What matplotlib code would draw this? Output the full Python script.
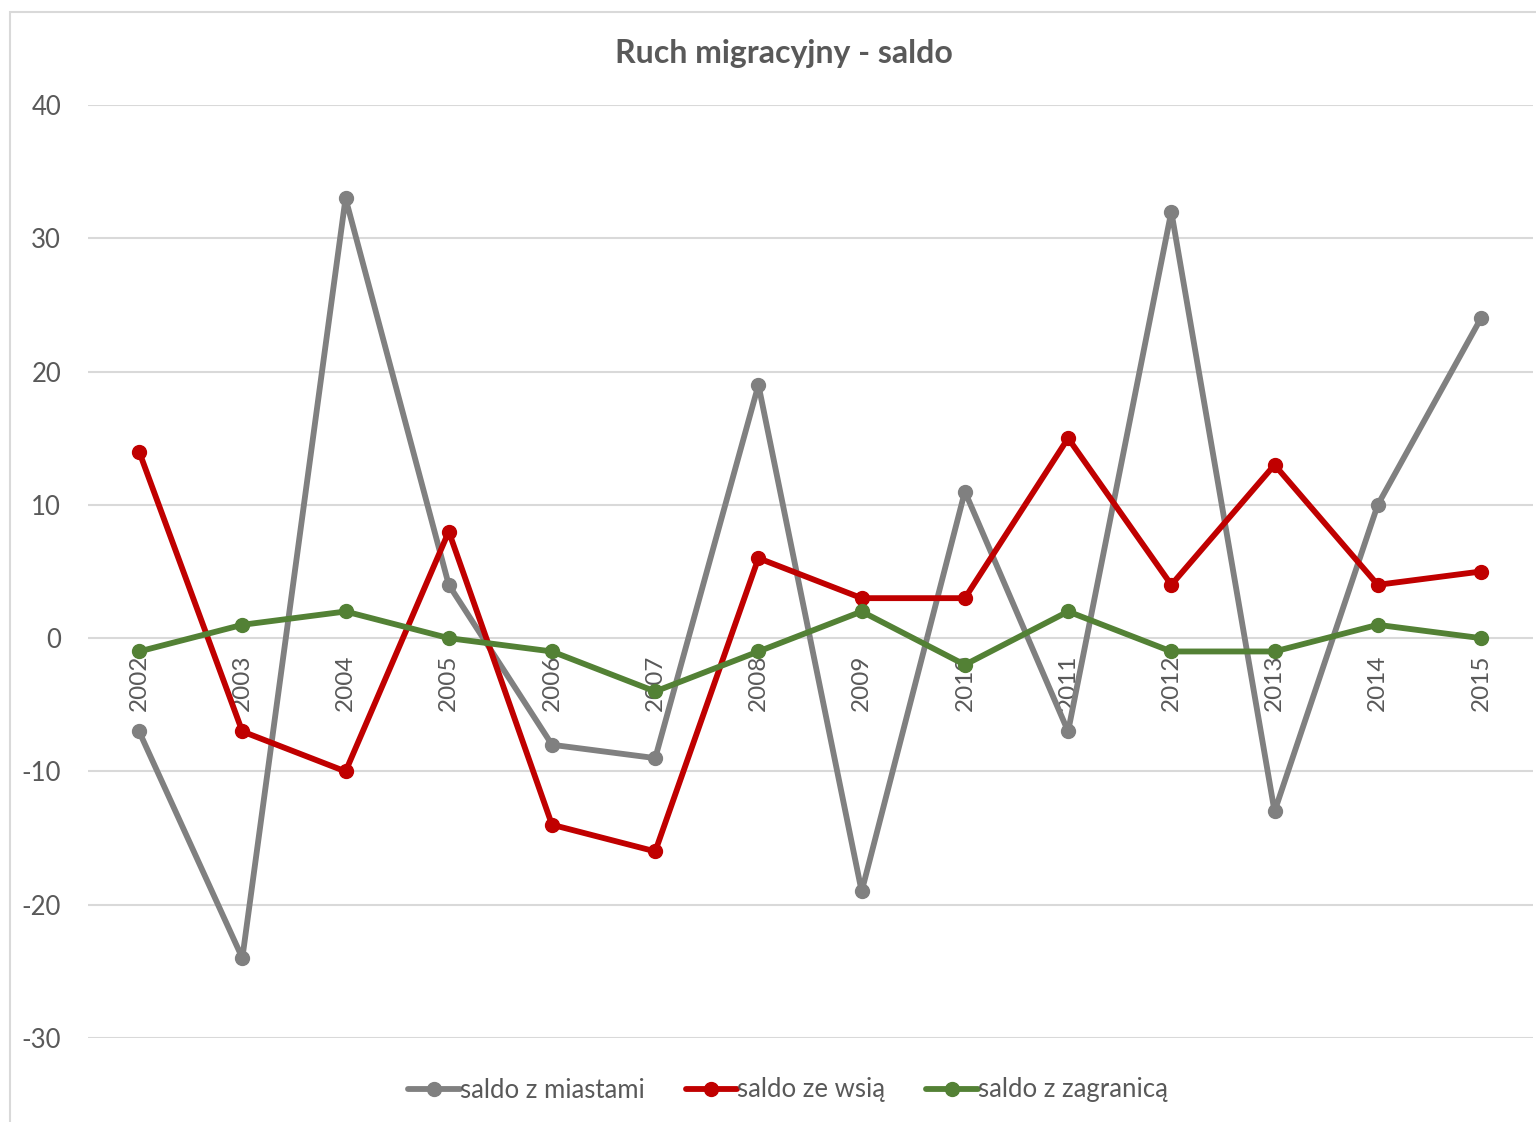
import matplotlib
matplotlib.use("Agg")
import matplotlib.pyplot as plt
from matplotlib.patches import Rectangle

years = ["2002", "2003", "2004", "2005", "2006", "2007", "2008", "2009", "2010", "2011", "2012", "2013", "2014", "2015"]
miasta = [-7, -24, 33, 4, -8, -9, 19, -19, 11, -7, 32, -13, 10, 24]
wies = [14, -7, -10, 8, -14, -16, 6, 3, 3, 15, 4, 13, 4, 5]
zagranica = [-1, 1, 2, 0, -1, -4, -1, 2, -2, 2, -1, -1, 1, 0]
series_names = ["saldo z miastami", "saldo ze wsią", "saldo z zagranicą"]
colors = ["#808080", "#C00000", "#538135"]
yticks = [-30, -20, -10, 0, 10, 20, 30, 40]
title = "Ruch migracyjny - saldo"

plt.rcParams['font.family'] = ['Lato', 'DejaVu Sans']
txt = "#595959"
W, H = 1536, 1122
fig = plt.figure(figsize=(W / 100, H / 100), dpi=100)

# outer chart border
fig.patches.append(Rectangle((10 / W, 0 - 0.01), 1.05, 1 - 12 / H + 0.01, transform=fig.transFigure,
                             fill=False, edgecolor="#D9D9D9", linewidth=1.5))

left, right = 87.5 / W, 1532.6 / W
bottom, top = 1 - 1038 / H, 1 - 105 / H
ax = fig.add_axes([left, bottom, right - left, top - bottom])

x = list(range(len(years)))
for vals, name, c in zip([miasta, wies, zagranica], series_names, colors):
    ax.plot(x, vals, color=c, lw=4.2, marker='o', markersize=10, label=name,
            solid_capstyle='round', zorder=3)

ax.set_xlim(-0.5, len(years) - 0.5)
ax.set_ylim(-30, 40)
ax.set_yticks(yticks)
ax.set_yticklabels([str(v) for v in yticks], color=txt, fontsize=18.5)
ax.tick_params(axis='y', length=0, pad=19)
ax.set_xticks([])
for s in ax.spines.values():
    s.set_visible(False)
ax.grid(axis='y', color="#D9D9D9", lw=1.5, zorder=0)
ax.set_axisbelow(True)

for i, yr in enumerate(years):
    ax.annotate(yr, (i, 0), xytext=(0, -12), textcoords='offset points',
                rotation=90, ha='center', va='top', color=txt, fontsize=17.5, zorder=2)

fig.text(784 / W, 1 - 54 / H, title, ha='center', va='center', fontsize=23,
         fontweight='bold', color=txt)

leg = fig.legend(loc='center', bbox_to_anchor=(788 / W, 1 - 1090 / H), ncol=3, frameon=False,
                 fontsize=18.5, handlelength=2.0, handletextpad=0.0, columnspacing=1.6)
for t in leg.get_texts():
    t.set_color(txt)

fig.savefig("out.png", dpi=100)
